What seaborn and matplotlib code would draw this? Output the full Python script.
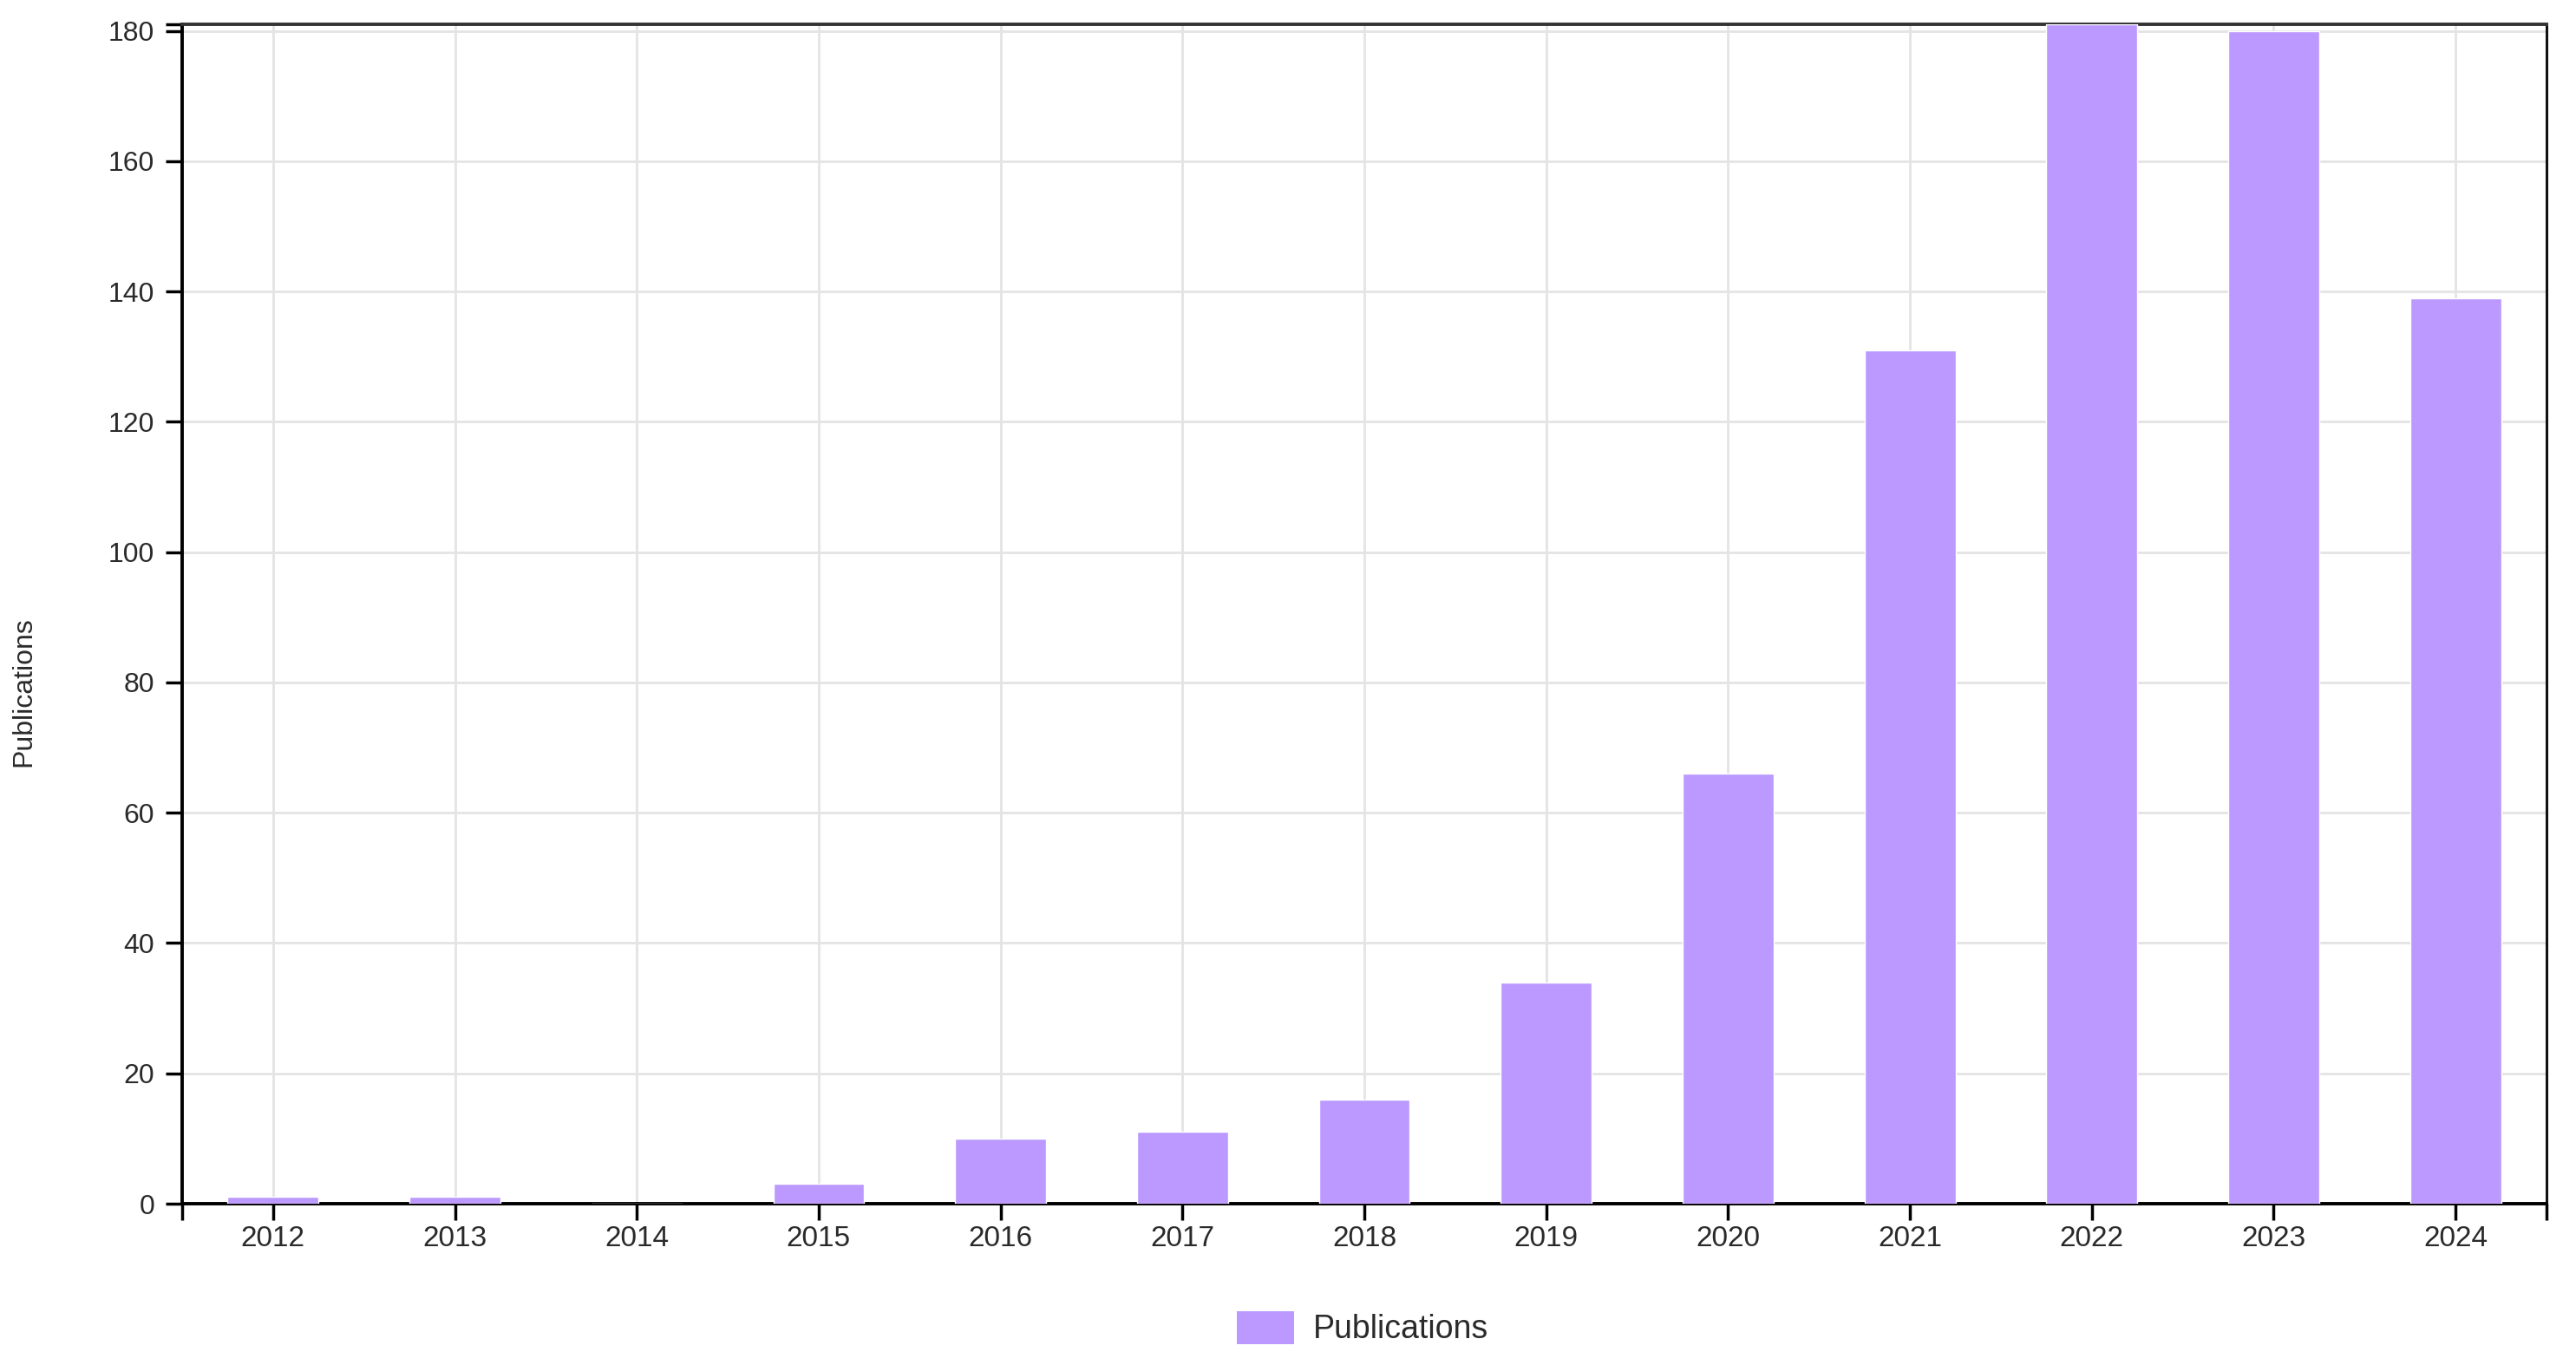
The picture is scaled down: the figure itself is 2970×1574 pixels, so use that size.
import pandas as pd
import seaborn as sns
import matplotlib.pyplot as plt
from matplotlib.patches import Patch

# data
years = ['2012', '2013', '2014', '2015', '2016', '2017', '2018',
         '2019', '2020', '2021', '2022', '2023', '2024']
publications = [1, 1, 0, 3, 10, 11, 16, 34, 66, 131, 181, 180, 139]
y_ticks = [0, 20, 40, 60, 80, 100, 120, 140, 160, 180]

df = pd.DataFrame({'year': years, 'publications': publications})

sns.set_theme(style='white')
plt.rcParams['font.family'] = ['Liberation Sans', 'DejaVu Sans']

bar_color = '#bb99ff'
text_color = '#2a2a2a'

fig = plt.figure(figsize=(29.7, 15.74), dpi=100)
ax = fig.add_axes([210 / 2970, 1 - 1388 / 1574, (2936 - 210) / 2970, (1388 - 28) / 1574])

sns.barplot(data=df, x='year', y='publications', color=bar_color,
            width=0.5, saturation=1, ax=ax, zorder=3)

ax.set_xlim(-0.5, len(years) - 0.5)
ax.set_ylim(0, 181)
ax.set_yticks(y_ticks)

# grid
ax.grid(True, color='#e4e4e4', linewidth=2, zorder=0)
ax.set_axisbelow(True)

# spines
for side in ['left', 'bottom']:
    ax.spines[side].set_color('black')
    ax.spines[side].set_linewidth(2.8)
ax.spines['top'].set_color('#333333')
ax.spines['top'].set_linewidth(2.8)
ax.spines['right'].set_color('#111111')
ax.spines['right'].set_linewidth(2.2)

ax.tick_params(axis='both', which='major', direction='out', length=14, width=2.5,
               color='black', labelcolor=text_color, left=True, bottom=True)
ax.tick_params(axis='x', labelsize=24, pad=4)
ax.tick_params(axis='y', labelsize=23, pad=9)
# outer ticks at the ends of the axes
ax.set_xticks([-0.5, len(years) - 0.5], minor=True)
ax.set_yticks([181], minor=True)
ax.tick_params(axis='both', which='minor', direction='out', length=14, width=2.5,
               color='black', left=True, bottom=True)

ax.set_xlabel('')
ax.set_ylabel('Publications', fontsize=23, color=text_color)
ax.yaxis.set_label_coords(-0.0616, 0.434)

handles = [Patch(facecolor=bar_color, edgecolor='none', label='Publications')]
fig.legend(handles=handles, loc='center', bbox_to_anchor=(0.529, 0.027),
           frameon=False, fontsize=27, handlelength=1.76, handleheight=1.2,
           handletextpad=0.6, labelcolor=text_color)

fig.savefig('out.png', dpi=100)
